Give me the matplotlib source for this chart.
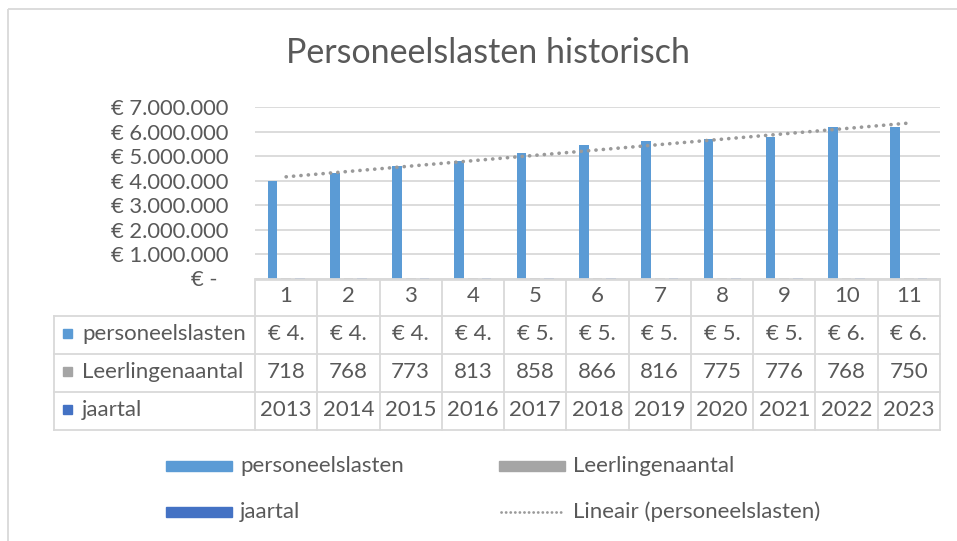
import numpy as np
import matplotlib
matplotlib.use("Agg")
import matplotlib.pyplot as plt
from matplotlib.transforms import blended_transform_factory
from matplotlib.patches import Rectangle
from matplotlib.ticker import FuncFormatter

# ---------------- data ----------------
categories = [1, 2, 3, 4, 5, 6, 7, 8, 9, 10, 11]
personeelslasten = [4.00e6, 4.30e6, 4.62e6, 4.82e6, 5.15e6, 5.47e6,
                    5.62e6, 5.69e6, 5.77e6, 6.19e6, 6.19e6]
leerlingenaantal = [718, 768, 773, 813, 858, 866, 816, 775, 776, 768, 750]
jaartal = [2013, 2014, 2015, 2016, 2017, 2018, 2019, 2020, 2021, 2022, 2023]
series_names = ["personeelslasten", "Leerlingenaantal", "jaartal"]
trend_name = "Lineair (personeelslasten)"
title_text = "Personeelslasten historisch"
y_ticks = [0, 1e6, 2e6, 3e6, 4e6, 5e6, 6e6, 7e6]

# ---------------- style ----------------
plt.rcParams['font.family'] = ['Lato', 'DejaVu Sans']
TXT = '#595959'
GRID = '#D9D9D9'
colors = ['#5B9BD5', '#A5A5A5', '#4472C4']
TREND = '#9A9A9A'
DOTS = (0, (0.05, 2.0))

W, H = 957, 541
fig = plt.figure(figsize=(W / 100, H / 100), dpi=100)
fig.patch.set_facecolor('white')


def fx(px):
    return px / W


def fy(py):
    return 1 - py / H


# main plot axes
ax_left, ax_right, ax_top, ax_bottom = 255, 940, 107.3, 278.5
ax = fig.add_axes([fx(ax_left), fy(ax_bottom), fx(ax_right) - fx(ax_left),
                   fy(ax_top) - fy(ax_bottom)], zorder=1)
ax.patch.set_alpha(0)

# overlay axes in pixel coordinates (for table/legend/frame), drawn on top
ov = fig.add_axes([0, 0, 1, 1], zorder=2)
ov.set_xlim(0, W)
ov.set_ylim(H, 0)
ov.axis('off')
ov.patch.set_alpha(0)

x = np.array(categories, dtype=float)
bw = 0.155
off = 0.22
ax.bar(x - off, personeelslasten, width=bw, color=colors[0], zorder=3,
       linewidth=0)
ax.bar(x, leerlingenaantal, width=bw, color=colors[1], zorder=3,
       linewidth=0, antialiased=False)
ax.bar(x + off, jaartal, width=bw, color=colors[2], zorder=3,
       linewidth=0, antialiased=False)

coef = np.polyfit(x, personeelslasten, 1)
ax.plot(x, np.polyval(coef, x), color=TREND, linestyle=DOTS,
        linewidth=2.6, dash_capstyle='round', zorder=4)

ax.set_xlim(0.5, 11.5)
ax.set_ylim(0, 7e6)
ax.set_yticks(y_ticks)


def euro(v, pos=None):
    if v == 0:
        return '€ -  '
    return '€ ' + f'{v:,.0f}'.replace(',', '.')


ax.yaxis.set_major_formatter(FuncFormatter(euro))
ax.tick_params(axis='y', length=0, pad=19, labelsize=15.8, labelcolor=TXT)
ax.set_xticks([])
ax.grid(axis='y', color=GRID, linewidth=1.3, zorder=0)
for s in ax.spines.values():
    s.set_visible(False)

# title
ov.text(488, 53, title_text, ha='center', va='center', fontsize=24.5, color=TXT)

# outer frame
ov.add_patch(Rectangle((8, 9), W + 20, H + 20, fill=False, edgecolor=GRID,
                       linewidth=1.3))

# ---------------- data table ----------------
bt = blended_transform_factory(ax.transData, ov.transData)
rows_y = [278.5, 315.5, 353.5, 391.5, 429.5]
label_left = 54
lw_t = 1.3
ov.plot([ax_left, ax_right], [rows_y[0], rows_y[0]], color=GRID, lw=2.0,
        solid_capstyle='butt')
for yy in rows_y[1:]:
    ov.plot([label_left, ax_right], [yy, yy], color=GRID, lw=lw_t)
ov.plot([label_left, label_left], [rows_y[1], rows_y[-1]], color=GRID, lw=lw_t)
for b in np.arange(0.5, len(categories) + 1, 1.0):
    ov.plot([b, b], [rows_y[0], rows_y[-1]], color=GRID, lw=lw_t, transform=bt)

centers = [(rows_y[i] + rows_y[i + 1]) / 2 - 1 for i in range(4)]
FS = 16
for c in categories:
    ov.text(c, centers[0], str(c), ha='center', va='center', fontsize=FS,
            color=TXT, transform=bt)


def trunc_euro(v):
    return ('€ ' + f'{v:,.0f}'.replace(',', '.'))[:4]


rows = [[trunc_euro(v) for v in personeelslasten],
        [str(v) for v in leerlingenaantal],
        [str(v) for v in jaartal]]
for r, vals in enumerate(rows):
    yc = centers[r + 1]
    for c, t in zip(categories, vals):
        ov.text(c, yc, t, ha='center', va='center', fontsize=FS, color=TXT,
                transform=bt)
    ov.add_patch(Rectangle((63, yc - 4.5), 9, 9, color=colors[r]))
    ov.text(82, yc, series_names[r], ha='left', va='center', fontsize=FS,
            color=TXT)

# ---------------- legend ----------------
leg_rows = [466, 512]
leg_cols = [(166, 232, 240), (499, 565, 573)]
entries = [(0, 0, series_names[0]), (0, 1, series_names[1]),
           (1, 0, series_names[2]), (1, 1, trend_name)]
for i, (r, cidx, name) in enumerate(entries):
    x0, x1, xt = leg_cols[cidx]
    yc = leg_rows[r]
    if i < 3:
        ov.add_patch(Rectangle((x0, yc - 5), x1 - x0, 10, color=colors[i]))
    else:
        ov.plot([x0 + 2, x1 - 2], [yc, yc], color=TREND, linestyle=(0, (0.05, 1.6)),
                linewidth=2.0, dash_capstyle='round')
    ov.text(xt, yc, name, ha='left', va='center', fontsize=FS, color=TXT)

fig.savefig('out.png', dpi=100, facecolor='white')
